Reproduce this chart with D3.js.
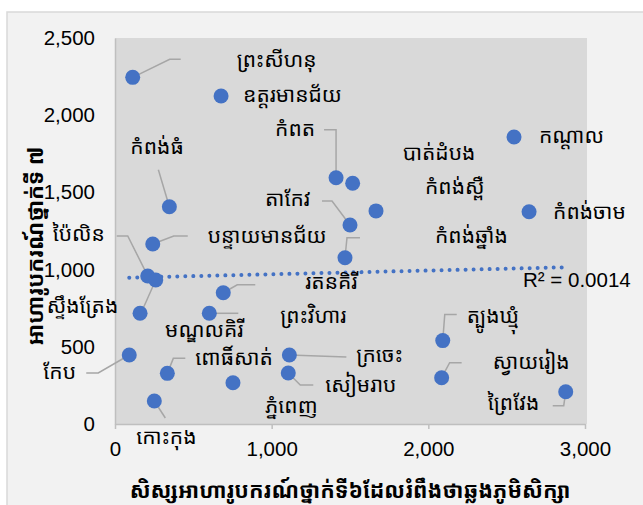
<!DOCTYPE html>
<html>
<head>
<meta charset="utf-8">
<script src="https://cdn.jsdelivr.net/npm/d3@7"></script>
<style>
  body { margin: 0; background: #ffffff; }
</style>
</head>
<body>
<div id="chart"></div>
<script>
// provinces and their values
const provinces = ["ព្រះសីហនុ", "ឧត្តរមានជ័យ", "កំពត", "កំពង់ធំ", "កណ្តាល", "បាត់ដំបង", "កំពង់ស្ពឺ", "កំពង់ចាម", "តាកែវ", "បន្ទាយមានជ័យ", "ប៉ៃលិន", "កំពង់ឆ្នាំង", "រតនគិរី", "ស្ទឹងត្រែង", "ព្រះវិហារ", "មណ្ឌលគិរី", "ត្បូងឃ្មុំ", "កែប", "ពោធិ៍សាត់", "ក្រចេះ", "សៀមរាប", "ភ្នំពេញ", "កោះកុង", "ស្វាយរៀង", "ព្រៃវែង"];
const grade6Students = [113, 677, 1411, 347, 2547, 1517, 1666, 2643, 1500, 241, 209, 1468, 691, 260, 602, 160, 2092, 91, 334, 1113, 1106, 753, 251, 2085, 2877];
const grade7Scholarships = [2245, 2124, 1595, 1407, 1859, 1559, 1380, 1375, 1289, 1166, 959, 1077, 850, 933, 717, 717, 540, 447, 328, 447, 330, 267, 149, 300, 209];

// linear trendline end points and its R²
const trendX = [91, 2877];
const trendY = [948, 1015];
const rSquared = "R² = 0.0014";

const xTicks = [0, 1000, 2000, 3000];
const yTicks = [0, 500, 1000, 1500, 2000, 2500];
const xTitle = "សិស្សអាហារូបករណ៍ថ្នាក់ទី៦ដែលរំពឹងថាឆ្លងភូមិសិក្សា";
const yTitle = "អាហារូបករណ៍ថ្នាក់ទី ៧";

// label placement (px offset from the dot) and leader line elbows
const labelOffsets = [[104,-17],[22,0],[-61,-48],[-39,-59],[25,0],[50,-30],[49,-23],[24,1],[-85,-25],[55,-7],[-95,-41],[90,-21],[82,-10],[-109,27],[71,3],[25,17],[24,-24],[-86,18],[28,-15],[67,1],[37,13],[32,24],[-18,37],[51,-15],[-78,12]];
const leaders = [[[37,-18],[48,-18]], null, [[0,-48],[-12,-48]], [[-11,-37]], null, null, null, null, [[-18,-24],[-28,-24]], [[21,-8],[35,-8]], [[-20,-40],[-31,-40]], [[2,-20],[15,-20]], [[14,-8],[32,-8]], [[-12,27],[-18,27]], [[29,0]], null, [[2,-26],[14,-26]], [[-31,18],[-43,18]], [[6,-15],[18,-15]], [[57,2]], [[12,12],[25,12]], null, [[11,17]], [[8,-15],[20,-15]], [[-2,14],[-13,14]]];

const width = 643, height = 505;
const margin = {top: 38, right: 58, bottom: 81, left: 115};
const khmer = "'Khmer OS', 'Khmer OS System', 'Noto Sans Khmer', 'Noto Serif Khmer', 'Khmer OS Content', sans-serif";
const latin = "'Liberation Sans', Arial, sans-serif";

const svg = d3.select("#chart").append("svg")
  .attr("width", width).attr("height", height)
  .style("display", "block");

// chart area
svg.append("rect").attr("x", 7).attr("y", 12).attr("width", 645).attr("height", 505)
  .attr("fill", "#f2f2f2").attr("stroke", "#d9d9d9").attr("stroke-width", 1.5);

const x = d3.scaleLinear().domain([0, 3000]).range([margin.left, width - margin.right]);
const y = d3.scaleLinear().domain([0, 2500]).range([height - margin.bottom, margin.top]);

// plot area
svg.append("rect").attr("x", x(0)).attr("y", y(2500)).attr("width", x(3000) - x(0) + 2).attr("height", y(0) - y(2500))
  .attr("fill", "#d9d9d9");

const xAxis = svg.append("g").attr("transform", `translate(0,${y(0)})`)
  .call(d3.axisBottom(x).tickValues(xTicks).tickFormat(d3.format(",")).tickSize(5).tickSizeOuter(0));
xAxis.select(".domain").attr("stroke", "#bfbfbf").attr("stroke-width", 1.5);
xAxis.selectAll(".tick line").attr("stroke", "#bfbfbf").attr("stroke-width", 1.5);
xAxis.selectAll(".tick text").attr("fill", "#000").attr("font-family", latin).attr("font-size", "20.5px").attr("dy", "1.15em");

const yAxis = svg.append("g").attr("transform", `translate(${x(0)},0)`)
  .call(d3.axisLeft(y).tickValues(yTicks).tickFormat(d3.format(",")).tickSize(0).tickPadding(20));
yAxis.select(".domain").attr("stroke", "#bfbfbf").attr("stroke-width", 1.5);
yAxis.selectAll(".tick text").attr("fill", "#000").attr("font-family", latin).attr("font-size", "20.5px");

// trendline
svg.append("path").datum(d3.zip(trendX, trendY))
  .attr("fill", "none").attr("stroke", "#4472c4").attr("stroke-width", 4)
  .attr("stroke-linecap", "round").attr("stroke-dasharray", "0.01 8")
  .attr("d", d3.line().x(d => x(d[0])).y(d => y(d[1])));

svg.append("text").attr("x", 523).attr("y", 287).attr("font-family", latin).attr("font-size", "20.5px")
  .attr("fill", "#000").text(rSquared);

const points = provinces.map((name, i) => ({name, vx: grade6Students[i], vy: grade7Scholarships[i], off: labelOffsets[i], lead: leaders[i]}));

// leader lines
svg.append("g").selectAll("path").data(points.filter(d => d.lead)).join("path")
  .attr("fill", "none").attr("stroke", "#a6a6a6").attr("stroke-width", 1.5)
  .attr("d", d => {
    const px = x(d.vx), py = y(d.vy);
    return d3.line()([[px, py], ...d.lead.map(p => [px + p[0], py + p[1]])]);
  });

svg.append("g").selectAll("circle").data(points).join("circle")
  .attr("cx", d => x(d.vx)).attr("cy", d => y(d.vy)).attr("r", 7.5).attr("fill", "#4472c4");

svg.append("g").selectAll("text").data(points).join("text")
  .attr("x", d => x(d.vx) + d.off[0]).attr("y", d => y(d.vy) + d.off[1])
  .attr("dy", "0.3em").attr("font-family", khmer).attr("font-size", "21px").attr("fill", "#000")
  .text(d => d.name);

// axis titles
svg.append("text").attr("x", (x(0) + x(3000)) / 2).attr("y", 490).attr("dy", "0.35em")
  .attr("text-anchor", "middle").attr("font-family", khmer).attr("font-weight", "bold").attr("font-size", "21.5px")
  .text(xTitle);
svg.append("text").attr("transform", "rotate(-90)").attr("x", -246).attr("y", 35).attr("dy", "0.35em")
  .attr("text-anchor", "middle").attr("font-family", khmer).attr("font-weight", "bold").attr("font-size", "22px")
  .text(yTitle);
</script>
</body>
</html>
